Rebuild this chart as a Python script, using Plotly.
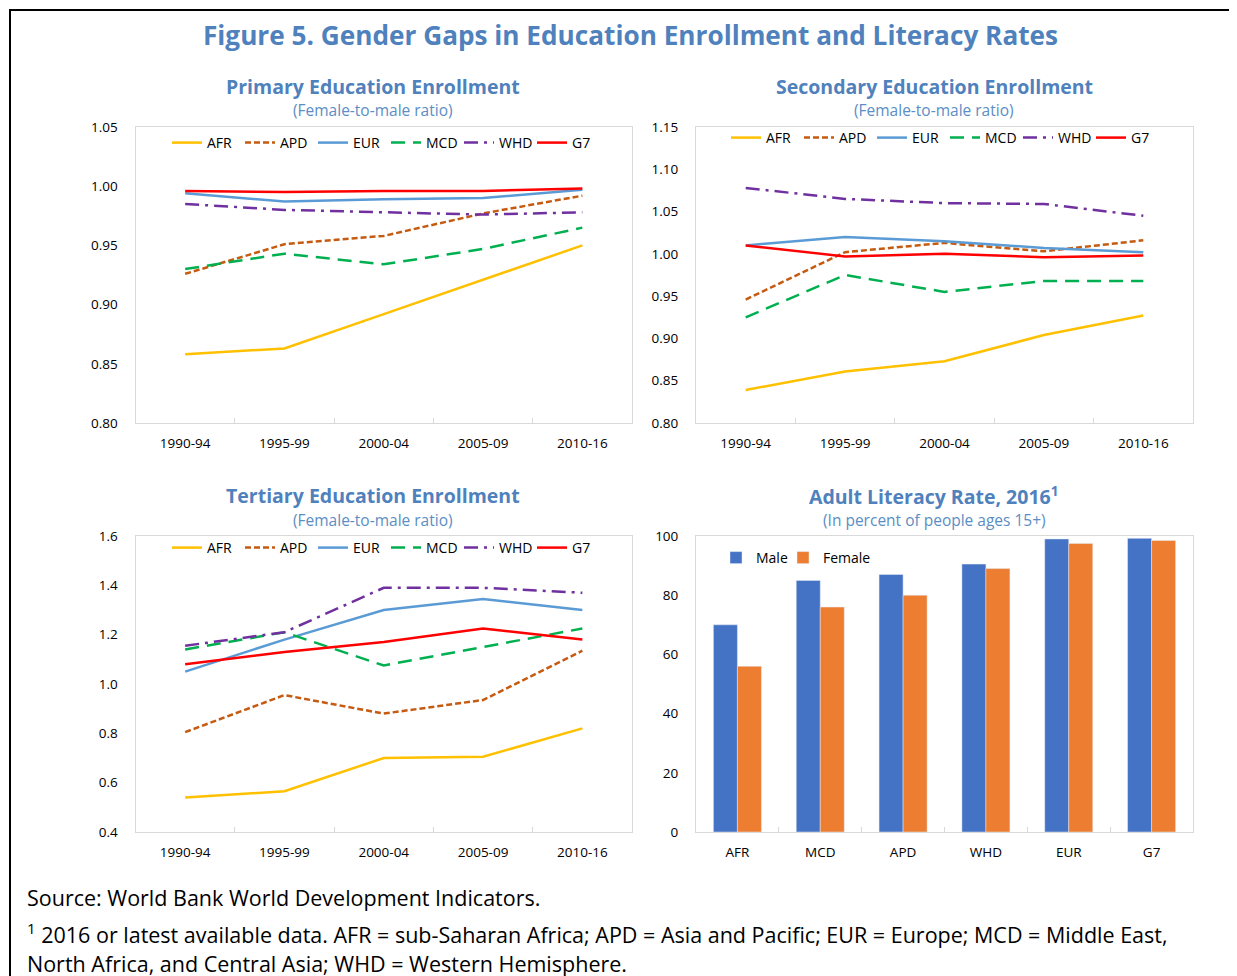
import plotly.graph_objects as go

W, H = 1237, 976

periods = ["1990-94", "1995-99", "2000-04", "2005-09", "2010-16"]
regions = ["AFR", "APD", "EUR", "MCD", "WHD", "G7"]

primary = {
    "AFR": [0.858, 0.863, 0.892, 0.921, 0.950],
    "APD": [0.926, 0.951, 0.958, 0.977, 0.992],
    "EUR": [0.994, 0.987, 0.989, 0.990, 0.997],
    "MCD": [0.930, 0.943, 0.934, 0.947, 0.965],
    "WHD": [0.985, 0.980, 0.978, 0.976, 0.978],
    "G7":  [0.996, 0.995, 0.996, 0.996, 0.998],
}
secondary = {
    "AFR": [0.839, 0.861, 0.873, 0.904, 0.927],
    "APD": [0.946, 1.002, 1.013, 1.003, 1.016],
    "EUR": [1.010, 1.020, 1.015, 1.007, 1.002],
    "MCD": [0.925, 0.975, 0.955, 0.968, 0.968],
    "WHD": [1.078, 1.065, 1.060, 1.059, 1.045],
    "G7":  [1.010, 0.997, 1.000, 0.996, 0.998],
}
tertiary = {
    "AFR": [0.540, 0.565, 0.700, 0.705, 0.820],
    "APD": [0.805, 0.955, 0.880, 0.935, 1.135],
    "EUR": [1.050, 1.180, 1.300, 1.345, 1.300],
    "MCD": [1.140, 1.210, 1.075, 1.150, 1.225],
    "WHD": [1.155, 1.210, 1.390, 1.390, 1.370],
    "G7":  [1.080, 1.130, 1.170, 1.225, 1.180],
}
lit_regions = ["AFR", "MCD", "APD", "WHD", "EUR", "G7"]
lit_male = [70.0, 85.0, 87.0, 90.5, 99.0, 99.2]
lit_female = [56.0, 76.0, 80.0, 89.0, 97.5, 98.5]

styles = {
    "AFR": dict(color="#FFC000", dash="solid"),
    "APD": dict(color="#C55A11", dash="6px,3px"),
    "EUR": dict(color="#5B9BD5", dash="solid"),
    "MCD": dict(color="#00B050", dash="14px,8px"),
    "WHD": dict(color="#7030A0", dash="14px,6px,3px,6px"),
    "G7":  dict(color="#FF0000", dash="solid"),
}

TITLE_BLUE = "#4F81BD"
FONT = "Open Sans"
OFF = 8  # page body margin

def px_x(p):
    return (p - OFF) / W

def px_y(p):
    return 1 - (p - OFF) / H

fig = go.Figure()

panels = [
    (primary, "x", "y", "legend"),
    (secondary, "x2", "y2", "legend2"),
    (tertiary, "x3", "y3", "legend3"),
]
for data, xa, ya, lg in panels:
    for r in regions:
        st = styles[r]
        fig.add_trace(go.Scatter(
            x=periods, y=data[r], name=r, mode="lines",
            line=dict(color=st["color"], dash=st["dash"], width=2.5),
            xaxis=xa, yaxis=ya, legend=lg,
        ))

fig.add_trace(go.Bar(x=lit_regions, y=lit_male, name="Male", marker_color="#4472C4",
                     xaxis="x4", yaxis="y4", legend="legend4"))
fig.add_trace(go.Bar(x=lit_regions, y=lit_female, name="Female", marker_color="#ED7D31",
                     xaxis="x4", yaxis="y4", legend="legend5"))

frame = "#D9D9D9"
tickfont = dict(family=FONT, size=13.5, color="#000000")

def xaxis(dom, anchor, n):
    return dict(domain=dom, anchor=anchor, type="category", range=[-0.5, n - 0.5],
                showgrid=False, zeroline=False,
                showline=True, linecolor=frame, linewidth=1, mirror=True,
                ticks="inside", tickson="boundaries", ticklen=5, tickcolor=frame,
                tickfont=tickfont, ticklabelstandoff=8, fixedrange=True)

def yaxis(dom, anchor, rng, dtick, fmt):
    return dict(domain=dom, anchor=anchor, range=rng, dtick=dtick, tickformat=fmt,
                showgrid=False, zeroline=False, showline=True, linecolor=frame,
                linewidth=1, mirror=True, ticks="", tickfont=tickfont,
                ticklabelstandoff=14, fixedrange=True)

xl = [px_x(135.5), px_x(632)]
xr = [px_x(696), px_x(1193)]
yt = [px_y(423), px_y(127)]
yb = [px_y(832), px_y(536)]

fig.update_layout(
    width=W, height=H,
    margin=dict(l=0, r=0, t=0, b=0, autoexpand=False),
    paper_bgcolor="white", plot_bgcolor="white",
    font=dict(family=FONT, size=13, color="#000000"),
    barmode="group", bargap=0.42, bargroupgap=0,
    xaxis=xaxis(xl, "y", len(periods)), yaxis=yaxis(yt, "x", [0.80, 1.05], 0.05, ".2f"),
    xaxis2=xaxis(xr, "y2", len(periods)), yaxis2=yaxis(yt, "x2", [0.80, 1.15], 0.05, ".2f"),
    xaxis3=xaxis(xl, "y3", len(periods)), yaxis3=yaxis(yb, "x3", [0.4, 1.6], 0.2, ".1f"),
    xaxis4=xaxis(xr, "y4", len(lit_regions)), yaxis4=yaxis(yb, "x4", [0, 100], 20, "d"),
)

def line_legend(xl_, yc):
    return dict(orientation="h", x=px_x(xl_), y=px_y(yc), xanchor="left", yanchor="middle",
                bgcolor="rgba(0,0,0,0)", font=dict(family=FONT, size=14),
                entrywidth=28, itemwidth=30, tracegroupgap=0)

def bar_legend(xl_, yc):
    return dict(orientation="h", x=px_x(xl_), y=px_y(yc), xanchor="left", yanchor="middle",
                bgcolor="rgba(0,0,0,0)", font=dict(family=FONT, size=14), itemwidth=30)

fig.update_layout(
    legend=line_legend(167, 143),
    legend2=line_legend(726, 138),
    legend3=line_legend(167, 548),
    legend4=bar_legend(716, 558),
    legend5=bar_legend(783, 558),
)

ann = []
ann.append(dict(text="<b>Figure 5. Gender Gaps in Education Enrollment and Literacy Rates</b>",
                x=px_x(630), y=px_y(35), xref="paper", yref="paper", showarrow=False,
                xanchor="center", yanchor="middle",
                font=dict(family=FONT, size=26.2, color=TITLE_BLUE)))
subs = [
    ("Primary Education Enrollment", "(Female-to-male ratio)", 373, 86, 110),
    ("Secondary Education Enrollment", "(Female-to-male ratio)", 934, 86, 110),
    ("Tertiary Education Enrollment", "(Female-to-male ratio)", 373, 495, 520),
    ("Adult Literacy Rate, 2016<sup>1</sup>", "(In percent of people ages 15+)", 934, 495, 520),
]
for t, s, xc, y1, y2 in subs:
    ann.append(dict(text="<b>" + t + "</b>", x=px_x(xc), y=px_y(y1), xref="paper", yref="paper",
                    showarrow=False, xanchor="center", yanchor="middle",
                    font=dict(family=FONT, size=19.5, color=TITLE_BLUE)))
    ann.append(dict(text=s, x=px_x(xc), y=px_y(y2), xref="paper", yref="paper",
                    showarrow=False, xanchor="center", yanchor="middle",
                    font=dict(family=FONT, size=15.5, color="#5B8EC4")))

notes = [
    ("Source: World Bank World Development Indicators.", 25, 897),
    ("<sup>1</sup> 2016 or latest available data. AFR = sub-Saharan Africa; APD = Asia and Pacific; EUR = Europe; MCD = Middle East,", 25, 933),
    ("North Africa, and Central Asia; WHD = Western Hemisphere.", 25, 963),
]
for t, xl_, yc in notes:
    ann.append(dict(text=t, x=px_x(xl_), y=px_y(yc), xref="paper", yref="paper",
                    showarrow=False, xanchor="left", yanchor="middle",
                    font=dict(family=FONT, size=21.5, color="#000000")))
fig.update_layout(annotations=ann)

fig.update_layout(shapes=[
    dict(type="rect", xref="paper", yref="paper", x0=px_x(10), x1=px_x(1236),
         y0=px_y(1010), y1=px_y(10), line=dict(color="black", width=2), layer="below"),
])

fig.write_html("out.html")
